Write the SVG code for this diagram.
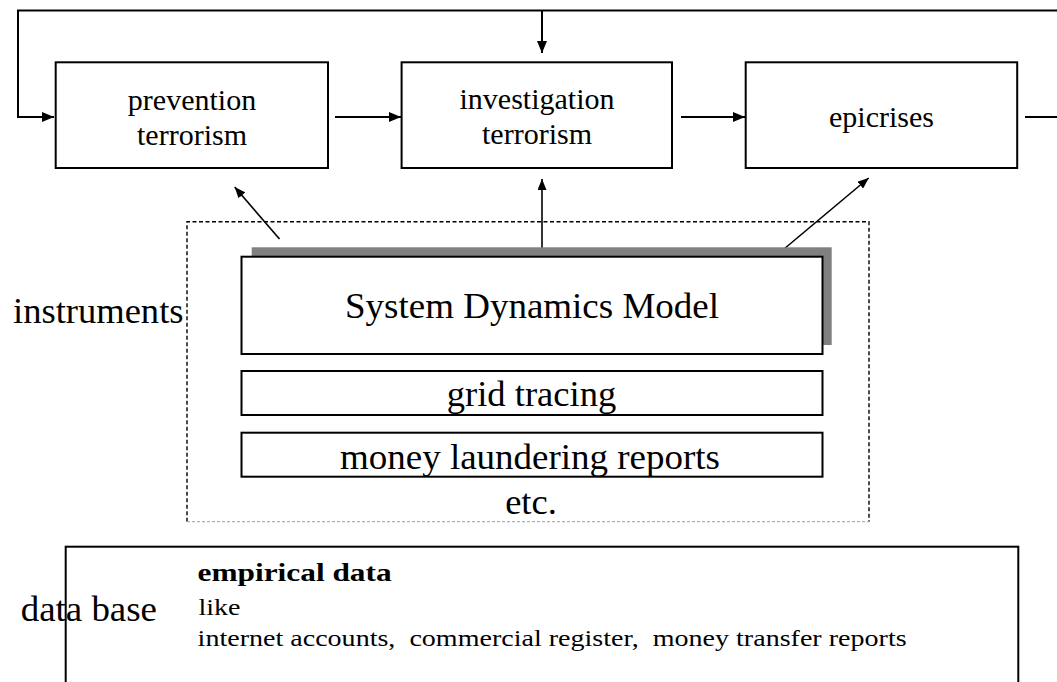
<svg xmlns="http://www.w3.org/2000/svg" width="1057" height="682" viewBox="0 0 1057 682">
<style>
  .box { fill: #ffffff; stroke: #000000; stroke-width: 2; }
  .conn { fill: none; stroke: #000000; stroke-width: 2; }
  .diag { fill: none; stroke: #000000; stroke-width: 1.6; }
  .t { font-family: "Liberation Serif", "Times New Roman", serif; fill: #000000; }
  .top { font-size: 30px; text-anchor: middle; }
  .big { font-size: 36.5px; }
  .small { font-size: 24px; }
  .bold { font-size: 26px; font-weight: bold; }
</style>
<defs>
  <marker id="arr" markerUnits="userSpaceOnUse" markerWidth="12" markerHeight="10" refX="12" refY="5" orient="auto">
    <path d="M0,0 L12,5 L0,10 z" fill="#000000"/>
  </marker>
  <marker id="arrs" markerUnits="userSpaceOnUse" markerWidth="11" markerHeight="9" refX="11" refY="4.5" orient="auto">
    <path d="M0,0 L11,4.5 L0,9 z" fill="#000000"/>
  </marker>
</defs>
<rect width="1057" height="682" fill="#ffffff"/>

<g id="connectors">
  <path class="conn" d="M1060,10.5 H18 V117 H54" marker-end="url(#arr)"/>
  <path class="conn" d="M542,10.5 V53" marker-end="url(#arr)"/>
  <path class="conn" d="M335,117 H401" marker-end="url(#arr)"/>
  <path class="conn" d="M681,117 H745" marker-end="url(#arr)"/>
  <path class="conn" d="M1025,117 H1060"/>
  <path class="diag" d="M279.5,239 L234.7,187" marker-end="url(#arrs)"/>
  <path class="diag" d="M542,250 V179" marker-end="url(#arrs)"/>
  <path class="diag" d="M784,249 L868.7,178" marker-end="url(#arrs)"/>
</g>

<g id="prevention">
  <rect class="box" x="55.7" y="62.3" width="272.3" height="105.7"/>
  <text class="t top" x="192" y="109.5">prevention</text>
  <text class="t top" x="192" y="145">terrorism</text>
</g>
<g id="investigation">
  <rect class="box" x="401.6" y="62.3" width="270.4" height="105.7"/>
  <text class="t top" x="537" y="109">investigation</text>
  <text class="t top" x="537" y="144">terrorism</text>
</g>
<g id="epicrises">
  <rect class="box" x="745.7" y="62.3" width="271.5" height="105.7"/>
  <text class="t top" x="881.5" y="126.7">epicrises</text>
</g>

<g id="instruments">
  <path d="M187,521.7 V221.7 H869 V521.7" fill="none" stroke="#000000" stroke-width="1.4" stroke-dasharray="4 2.5"/>
  <path d="M187,521.7 H869" fill="none" stroke="#b0b0b0" stroke-width="1.2" stroke-dasharray="3 2"/>
  <text class="t big" x="13" y="323.3" textLength="170.5" lengthAdjust="spacingAndGlyphs">instruments</text>
  <text class="t big" x="531" y="514" text-anchor="middle">etc.</text>
</g>

<g id="system-dynamics-model">
  <rect x="251.7" y="247.3" width="580" height="97.7" fill="#808080"/>
  <rect class="box" x="241.5" y="256.7" width="581" height="97.3"/>
  <text class="t big" x="532" y="317.5" text-anchor="middle" textLength="374" lengthAdjust="spacingAndGlyphs">System Dynamics Model</text>
</g>
<g id="grid-tracing">
  <rect class="box" x="241.5" y="371" width="581" height="44"/>
  <text class="t big" x="531.5" y="406" text-anchor="middle" textLength="169.5" lengthAdjust="spacingAndGlyphs">grid tracing</text>
</g>
<g id="money-laundering-reports">
  <rect class="box" x="241.5" y="432.7" width="581" height="44"/>
  <text class="t big" x="530" y="469" text-anchor="middle" textLength="380" lengthAdjust="spacingAndGlyphs">money laundering reports</text>
</g>

<g id="data-base">
  <rect class="box" x="65.7" y="546.7" width="952.6" height="200"/>
  <text class="t big" x="20.7" y="620.5" textLength="136.3" lengthAdjust="spacingAndGlyphs">data base</text>
  <text class="t bold" x="197.6" y="580.5" textLength="194" lengthAdjust="spacingAndGlyphs">empirical data</text>
  <text class="t small" x="198.5" y="615" textLength="42" lengthAdjust="spacingAndGlyphs">like</text>
  <text class="t small" x="197.6" y="646" xml:space="preserve" style="white-space:pre" textLength="709" lengthAdjust="spacingAndGlyphs">internet accounts,  commercial register,  money transfer reports</text>
</g>
</svg>
